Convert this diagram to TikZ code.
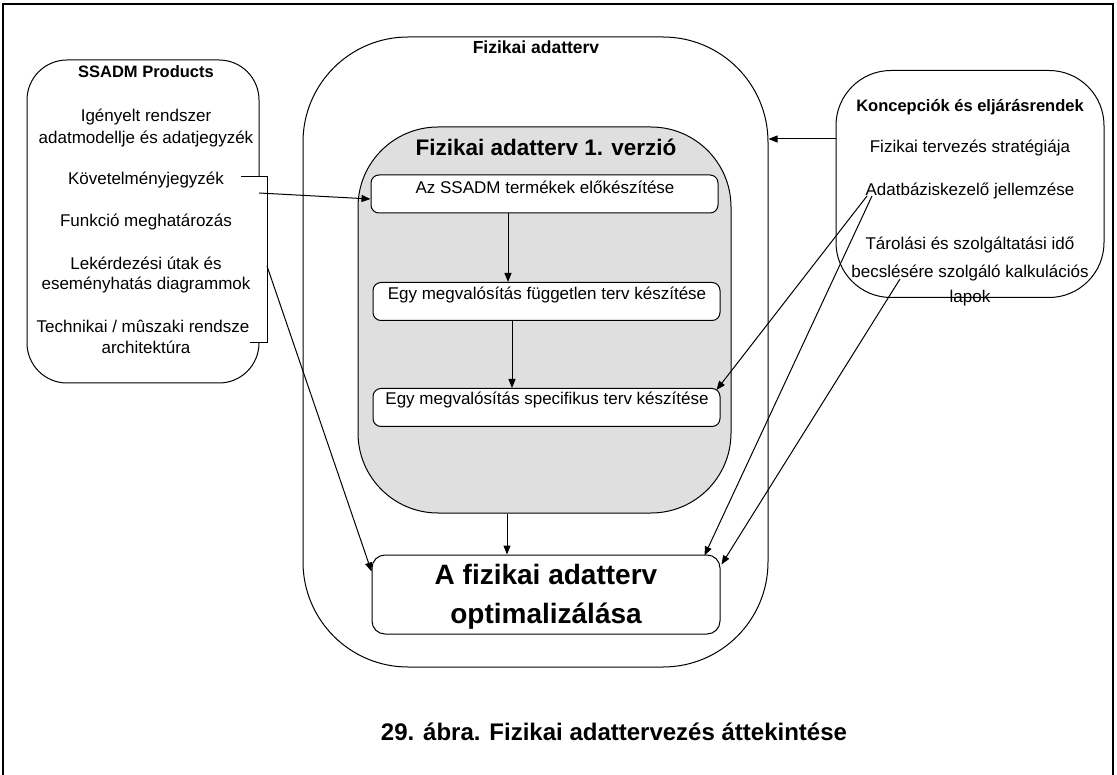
\documentclass[tikz,border=0pt]{standalone}
\usepackage{fontspec}
\setmainfont{Liberation Sans}
\usetikzlibrary{arrows.meta,calc}
\newcommand{\fsz}[1]{\fontsize{#1}{#1}\selectfont}
\begin{document}
\begin{tikzpicture}[x=1pt,y=-1pt,
  line width=1pt,
  arr/.style={-{Triangle[length=9pt,width=7pt]}},
  container/.style={draw, inner sep=0pt},
  stepbox/.style={draw, fill=white, rounded corners=8pt, inner sep=0pt,
                  minimum width=347pt, minimum height=38pt},
  txt/.style={inner sep=0pt, font=\fsz{17}},
  ttl/.style={inner sep=0pt, font=\fsz{16.5}\bfseries}]
\useasboundingbox (0,0) rectangle (1117,775);

% page frame (bottom edge runs off the page)
\draw[line width=1.5pt] (3,790) -- (3,4) -- (1113,4) -- (1113,790);

% outer container
\node[container, rounded corners=105pt, minimum width=465pt, minimum height=630pt]
  (phys) at (535.5,352) {};
\node[ttl, font=\fsz{17.5}\bfseries] (physT) at (536,47) {Fizikai adatterv};

% first version container
\node[container, fill=gray!25, rounded corners=80pt, minimum width=373pt, minimum height=386pt]
  (v1) at (544.5,320) {};
\node[inner sep=0pt, font=\fsz{22.5}\bfseries] (v1T) at (546,147) {Fizikai adatterv 1. verzió};

% steps
\node[stepbox] (b1) at (544.5,194) {};
\node[txt] (b1T) at (545,187) {Az SSADM termékek előkészítése};
\node[stepbox] (b2) at (546.5,301.5) {};
\node[txt] (b2T) at (547,295) {Egy megvalósítás független terv készítése};
\node[stepbox] (b3) at (546.5,407.5) {};
\node[txt] (b3T) at (547,400) {Egy megvalósítás specifikus terv készítése};

% optimisation step
\node[draw, fill=white, rounded corners=13pt, inner sep=0pt, minimum width=348pt, minimum height=79pt]
  (opt) at (546,594.5) {};
\node[inner sep=0pt, align=center, font=\fontsize{28}{39}\selectfont\bfseries] (optT) at (546,597)
  {A fizikai adatterv\\optimalizálása};

% SSADM products (right edge partly hidden behind the bracket)
\draw[rounded corners=40pt] (259,177) -- (259,60) -- (27,60) -- (27,383) -- (259,383) -- (259,343);
\node[ttl] (ssT) at (146,72) {SSADM Products};
\node[txt] (ss1) at (146,117) {Igényelt rendszer};
\node[txt] (ss2) at (146,139) {adatmodellje és adatjegyzék};
\node[txt] (ss3) at (146,180) {Követelményjegyzék};
\node[txt] (ss4) at (146,222) {Funkció meghatározás};
\node[txt] (ss5) at (146,263) {Lekérdezési útak és};
\node[txt] (ss6) at (146,285) {eseményhatás diagrammok};
\node[txt] (ss7) at (143,326) {Technikai / mûszaki rendsze};
\node[txt] (ss8) at (146,347) {architektúra};
\draw (241,177) -- (267,177) -- (267,343) -- (250,343);

% policies and procedures
\node[draw, rounded corners=55pt, inner sep=0pt, minimum width=268pt, minimum height=227pt]
  (kp) at (970,184) {};
\node[ttl] (kpT) at (970,107) {Koncepciók és eljárásrendek};
\node[txt] (kp1) at (970,148) {Fizikai tervezés stratégiája};
\node[txt] (kp2) at (970,191) {Adatbáziskezelő jellemzése};
\node[txt] (kp3) at (970,245) {Tárolási és szolgáltatási idő};
\node[txt] (kp4) at (970,273) {becslésére szolgáló kalkulációs};
\node[txt] (kp5) at (970,298) {lapok};

% connector end points
\coordinate (ssA) at (259,193);
\coordinate (ssB) at (267,266);
\coordinate (kpA) at (867,196);
\coordinate (kpB) at (872,196);
\coordinate (kpC) at (900,279);
\coordinate (c508) at (508,0);
\coordinate (c512) at (512,0);
\coordinate (c507) at (507,0);
\coordinate (y139) at (0,139);

\draw[arr] (ssA) -- ([yshift=-5pt]b1.west);
\draw[arr] (ssB) -- ([yshift=-17pt]opt.north west);
\draw[arr] (b1.south -| c508) -- (b2.north -| c508);
\draw[arr] (b2.south -| c512) -- (b3.north -| c512);
\draw[arr] (v1.south -| c507) -- (opt.north -| c507);
\draw[arr] (kp.west |- y139) -- (phys.east |- y139);
\draw[arr] (kpA) -- ([xshift=-4pt,yshift=-2pt]b3.north east);
\draw[arr] (kpB) -- ([xshift=-16pt,yshift=-1pt]opt.north east);
\draw[arr] (kpC) -- ([xshift=1pt,yshift=-10pt]opt.north east);

% caption
\node[inner sep=0pt, font=\fsz{24}\bfseries] (cap) at (614,732)
  {29. ábra. Fizikai adattervezés áttekintése};
\end{tikzpicture}
\end{document}
